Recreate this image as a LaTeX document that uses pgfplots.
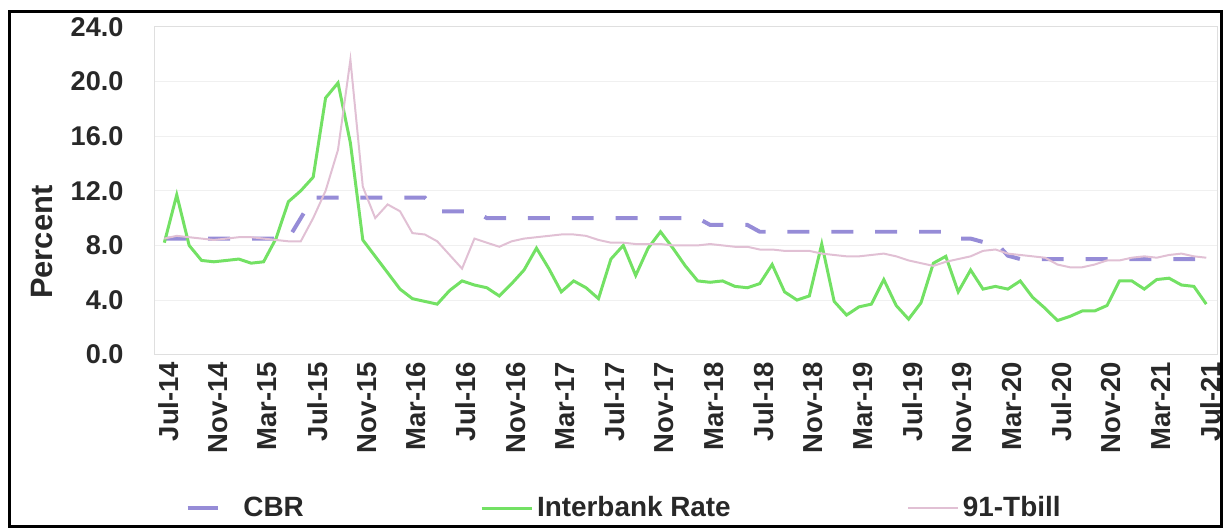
\documentclass[border=0pt]{standalone}
\usepackage{pgfplots}
\pgfplotsset{compat=1.18}
\usepackage{pgfplotstable}
\usepackage{fontspec}
\setmainfont{Liberation Sans}
\definecolor{cbrc}{RGB}{150,140,215}
\definecolor{ibc}{RGB}{115,225,100}
\definecolor{tbc}{RGB}{225,192,212}
\definecolor{txt}{RGB}{40,40,40}

\pgfplotstableread{
x cbr ib tb
0 8.5 8.2 8.5
1 8.5 11.7 8.7
2 8.5 8.0 8.6
3 8.5 6.9 8.5
4 8.5 6.8 8.4
5 8.5 6.9 8.5
6 8.5 7.0 8.6
7 8.5 6.7 8.6
8 8.5 6.8 8.5
9 8.5 8.5 8.4
10 8.5 11.2 8.3
11 10.0 12.0 8.3
12 11.5 13.0 10.0
13 11.5 18.8 12.0
14 11.5 19.9 15.0
15 11.5 15.5 21.6
16 11.5 8.4 12.3
17 11.5 7.2 10.0
18 11.5 6.0 11.0
19 11.5 4.8 10.5
20 11.5 4.1 8.9
21 11.5 3.9 8.8
22 10.5 3.7 8.3
23 10.5 4.7 7.3
24 10.5 5.4 6.3
25 10.5 5.1 8.5
26 10.0 4.9 8.2
27 10.0 4.3 7.9
28 10.0 5.2 8.3
29 10.0 6.2 8.5
30 10.0 7.8 8.6
31 10.0 6.3 8.7
32 10.0 4.6 8.8
33 10.0 5.4 8.8
34 10.0 4.9 8.7
35 10.0 4.1 8.4
36 10.0 7.0 8.2
37 10.0 8.0 8.2
38 10.0 5.8 8.1
39 10.0 7.8 8.1
40 10.0 9.0 8.1
41 10.0 7.8 8.0
42 10.0 6.5 8.0
43 10.0 5.4 8.0
44 9.5 5.3 8.1
45 9.5 5.4 8.0
46 9.5 5.0 7.9
47 9.5 4.9 7.9
48 9.0 5.2 7.7
49 9.0 6.6 7.7
50 9.0 4.6 7.6
51 9.0 4.0 7.6
52 9.0 4.3 7.6
53 9.0 8.1 7.4
54 9.0 3.9 7.3
55 9.0 2.9 7.2
56 9.0 3.5 7.2
57 9.0 3.7 7.3
58 9.0 5.5 7.4
59 9.0 3.6 7.2
60 9.0 2.6 6.9
61 9.0 3.8 6.7
62 9.0 6.7 6.5
63 9.0 7.2 6.8
64 8.5 4.6 7.0
65 8.5 6.2 7.2
66 8.25 4.8 7.6
67 8.25 5.0 7.7
68 7.25 4.8 7.4
69 7.0 5.4 7.3
70 7.0 4.2 7.2
71 7.0 3.4 7.1
72 7.0 2.5 6.6
73 7.0 2.8 6.4
74 7.0 3.2 6.4
75 7.0 3.2 6.6
76 7.0 3.6 6.9
77 7.0 5.4 6.9
78 7.0 5.4 7.1
79 7.0 4.8 7.2
80 7.0 5.5 7.1
81 7.0 5.6 7.3
82 7.0 5.1 7.4
83 7.0 5.0 7.2
84 7.0 3.7 7.1
}\data

\begin{document}
\begin{tikzpicture}
\begin{axis}[
  scale only axis, width=533.5pt, height=164.5pt,
  xmin=-0.8, xmax=84.9, ymin=0, ymax=24,
  /pgf/number format/assume math mode=true,
  ytick={0,4,...,24},
  yticklabel style={/pgf/number format/fixed, /pgf/number format/fixed zerofill, /pgf/number format/precision=1},
  yticklabel style={font=\bfseries\fontsize{13.6}{15}\selectfont, text=txt, xshift=-12pt},
  xtick={0,4,...,84},
  xticklabels={Jul-14,Nov-14,Mar-15,Jul-15,Nov-15,Mar-16,Jul-16,Nov-16,Mar-17,Jul-17,Nov-17,Mar-18,Jul-18,Nov-18,Mar-19,Jul-19,Nov-19,Mar-20,Jul-20,Nov-20,Mar-21,Jul-21},
  xticklabel style={rotate=90, anchor=east, font=\bfseries\fontsize{13.8}{15}\selectfont, text=txt, yshift=-2pt},
  major tick length=0pt,
  axis line style={gray!25},
  ymajorgrids, grid style={gray!12},
  ylabel={Percent},
  ylabel style={at={(axis description cs:-0.106,0.343)}, anchor=center, text=txt, font=\bfseries\fontsize{15.5}{17}\selectfont},
  legend columns=3,
  legend style={at={(0.029,-0.468)}, anchor=west, draw=none, fill=none, inner sep=0pt,
    font=\bfseries\fontsize{14}{16}\selectfont, text=txt,
    /tikz/every odd column/.style={column sep=0pt},
    /tikz/column 2/.style={column sep=86.5pt},
    /tikz/column 4/.style={column sep=86.5pt}},
  legend image code/.code={\draw[#1] (4pt,0pt) -- (25pt,0pt); \path (0pt,0pt) -- (25pt,0pt);},
]
\addlegendimage{cbrc, line width=2pt, dash pattern=on 11pt off 60pt}
\addlegendentry{CBR}
\addplot[cbrc, line width=2pt, dash pattern=on 11pt off 11pt, forget plot] table[x=x,y=cbr]{\data};
\addplot[ibc, line width=1.5pt] table[x=x,y=ib]{\data};
\addlegendentry{Interbank Rate}
\addplot[tbc, line width=1pt] table[x=x,y=tb]{\data};
\addlegendentry{91-Tbill}
\end{axis}
\draw[line width=1.5pt] (-72.5pt,-86pt) rectangle (535.5pt,172pt);
\path (-77.5pt,-88.5pt) rectangle (536pt,178pt);
\end{tikzpicture}
\end{document}
